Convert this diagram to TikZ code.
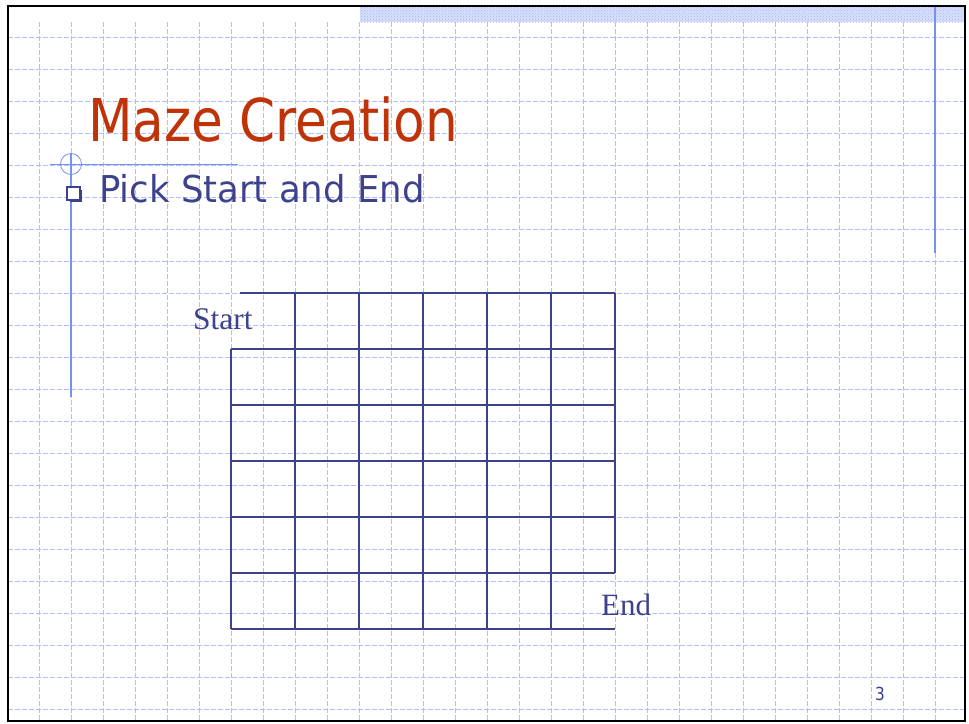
\documentclass[tikz,border=0pt]{standalone}
\usepackage{fontspec}
\setmainfont{Liberation Serif}
\newfontfamily\tahoma{DejaVu Sans}
\usetikzlibrary{patterns}
\definecolor{titlered}{RGB}{192,50,8}
\definecolor{navy}{RGB}{62,66,140}
\definecolor{gridblue}{RGB}{170,192,255}
\definecolor{accent}{RGB}{118,146,240}
\definecolor{barblue}{RGB}{214,222,250}
\definecolor{bardot}{RGB}{170,186,240}
\tikzset{
  bggrid/.style={gridblue, line width=0.7pt, dash pattern=on 5pt off 2pt},
  mazeline/.style={navy, line width=2pt},
  accentline/.style={accent, line width=2pt},
  frame/.style={black, line width=2.5pt},
  lbl/.style={inner sep=0pt, anchor=base west, text=navy}
}
\begin{document}
\begin{tikzpicture}[x=1pt,y=-1pt]
\useasboundingbox (0,0) rectangle (969,723);
\fill[white] (0,0) rectangle (969,723);
% top hatched bar
\fill[barblue] (360,6) rectangle (965,22);
\fill[pattern=crosshatch dots, pattern color=bardot] (360,6) rectangle (965,22);
% background grid
\foreach \y in {37,69,...,709} \draw[bggrid] (8,\y) -- (965,\y);
\foreach \x in {39,71,...,935} \draw[bggrid] (\x,22) -- (\x,721);
% right accent line
\coordinate (ra) at (935,6);
\coordinate (rb) at (935,253);
\draw[accentline] (ra) -- (rb);
% left accent decoration
\coordinate (lc) at (71,164);
\coordinate (hl) at (50,164);
\coordinate (hr) at (238,164);
\coordinate (vb) at (71,397);
\draw[accent, line width=0.8pt] (hl) -- (hr);
\draw[accent, line width=0.8pt] (lc) circle (10.5);
\draw[accentline] (71,153.5) -- (vb);
% frame
\draw[frame] (8,6) rectangle (965,721);
% title
\node[inner sep=0pt, anchor=base west, text=titlered, font=\tahoma\fontsize{59}{59}\selectfont] (title) at (88,141) {\scalebox{0.875}[1]{Maze Creation}};
% bullet
\fill[navy] (69.5,189.5) rectangle (82,202);
\fill[white] (67,187) rectangle (80,200);
\draw[navy, line width=1.2pt] (67,187) rectangle (80,200);
\node[lbl, font=\tahoma\fontsize{37}{37}\selectfont] (sub) at (99,202) {\scalebox{0.96}[1]{Pick Start and End}};
% maze
\foreach \y in {349,405,461,517,573} \draw[mazeline] (231,\y) -- (615,\y);
\draw[mazeline] (240,293) -- (615,293);
\draw[mazeline] (231,629) -- (615,629);
\draw[mazeline] (231,349) -- (231,629);
\draw[mazeline] (615,293) -- (615,573);
\foreach \x in {295,359,423,487,551} \draw[mazeline] (\x,293) -- (\x,629);
\node[lbl, font=\fontsize{31.5}{31.5}\selectfont] (start) at (193,329) {Start};
\node[lbl, font=\fontsize{31}{31}\selectfont] (end) at (601,615) {End};
\node[lbl, font=\tahoma\fontsize{18}{18}\selectfont] (pg) at (875,700) {\scalebox{0.85}[1]{3}};
\end{tikzpicture}
\end{document}
